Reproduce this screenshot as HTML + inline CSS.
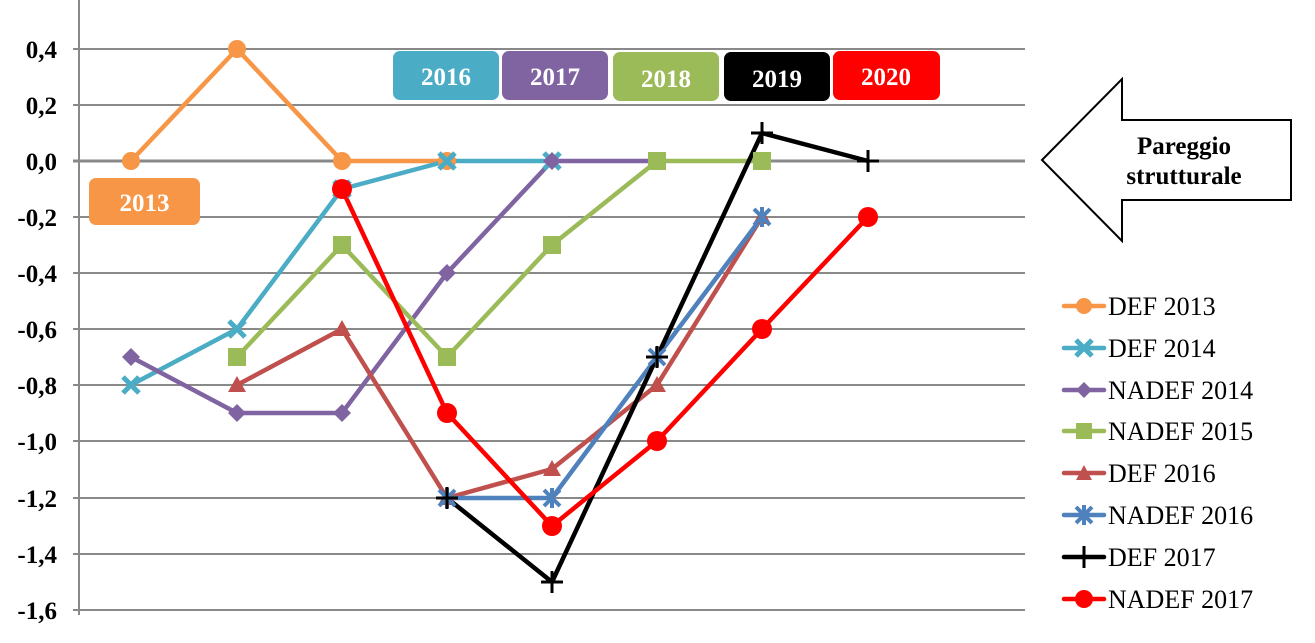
<!DOCTYPE html>
<html><head><meta charset="utf-8"><style>
html,body{margin:0;padding:0;background:#fff;}
svg{display:block;font-family:"Liberation Serif",serif;}
</style></head><body>
<svg width="1315" height="643" viewBox="0 0 1315 643">
<defs>
<g id="mX"><path d="M-8,-8L8,8M-8,8L8,-8" stroke-width="5"/></g>
<g id="mStar"><path d="M-8,-8L8,8M-8,8L8,-8M0,-10L0,10" stroke-width="4"/></g>
<g id="mPlus"><path d="M-11,0L11,0M0,-11L0,11" stroke="#000" stroke-width="3"/></g>
</defs>
<g stroke="#898989" stroke-width="2">
<line x1="73" y1="49" x2="1025" y2="49"/>
<line x1="73" y1="105" x2="1025" y2="105"/>
<line x1="73" y1="217" x2="1025" y2="217"/>
<line x1="73" y1="273" x2="1025" y2="273"/>
<line x1="73" y1="329" x2="1025" y2="329"/>
<line x1="73" y1="385" x2="1025" y2="385"/>
<line x1="73" y1="441" x2="1025" y2="441"/>
<line x1="73" y1="498" x2="1025" y2="498"/>
<line x1="73" y1="554" x2="1025" y2="554"/>
<line x1="73" y1="610" x2="1025" y2="610"/>
<line x1="73" y1="161" x2="1025" y2="161" stroke-width="3"/>
<line x1="79" y1="0" x2="79" y2="615"/>
</g>
<g font-size="25" font-weight="bold" text-anchor="end" fill="#000">
<text x="57" y="58">0,4</text><text x="57" y="114">0,2</text><text x="57" y="170">0,0</text>
<text x="57" y="226">-0,2</text><text x="57" y="282">-0,4</text><text x="57" y="338">-0,6</text>
<text x="57" y="394">-0,8</text><text x="57" y="450">-1,0</text><text x="57" y="507">-1,2</text>
<text x="57" y="563">-1,4</text><text x="57" y="619">-1,6</text>
</g>
<g fill="none" stroke-width="4.5" stroke-linejoin="round">
<polyline stroke="#f79646" points="131,161 237,49 342,161 447,161"/>
<polyline stroke="#4bacc6" points="131,385 237,329 342,189 447,161 552,161"/>
<polyline stroke="#8064a2" points="131,357 237,413 342,413 447,273 552,161 657,161"/>
<polyline stroke="#9bbb59" points="237,357 342,245 447,357 552,245 657,161 762,161"/>
<polyline stroke="#c0504d" points="237,385 342,329 447,498 552,469 657,385 762,217"/>
<polyline stroke="#4f81bd" points="447,498 552,498 657,357 762,217"/>
<polyline stroke="#000" points="447,498 552,582 657,357 762,133 868,161"/>
<polyline stroke="#ff0000" points="342,189 447,413 552,526 657,441 762,329 868,217"/>
</g>
<g fill="#f79646"><circle cx="131" cy="161" r="9"/><circle cx="237" cy="49" r="9"/><circle cx="342" cy="161" r="9"/><circle cx="447" cy="161" r="9"/></g>
<g stroke="#4bacc6"><use href="#mX" x="131" y="385"/><use href="#mX" x="237" y="329"/><use href="#mX" x="342" y="189"/><use href="#mX" x="447" y="161"/><use href="#mX" x="552" y="161"/></g>
<g fill="#8064a2"><path d="M131,348l9,9-9,9-9-9z"/><path d="M237,404l9,9-9,9-9-9z"/><path d="M342,404l9,9-9,9-9-9z"/><path d="M447,264l9,9-9,9-9-9z"/><path d="M552,152l9,9-9,9-9-9z"/><path d="M657,152l9,9-9,9-9-9z"/></g>
<g fill="#9bbb59"><rect x="228" y="348" width="18" height="18"/><rect x="333" y="236" width="18" height="18"/><rect x="438" y="348" width="18" height="18"/><rect x="543" y="236" width="18" height="18"/><rect x="648" y="152" width="18" height="18"/><rect x="753" y="152" width="18" height="18"/></g>
<g fill="#c0504d"><path d="M237,376l9,16h-18z"/><path d="M342,320l9,16h-18z"/><path d="M447,489l9,16h-18z"/><path d="M552,460l9,16h-18z"/><path d="M657,376l9,16h-18z"/><path d="M762,208l9,16h-18z"/></g>
<g stroke="#4f81bd"><use href="#mStar" x="447" y="498"/><use href="#mStar" x="552" y="498"/><use href="#mStar" x="657" y="357"/><use href="#mStar" x="762" y="217"/></g>
<g><use href="#mPlus" x="447" y="498"/><use href="#mPlus" x="552" y="582"/><use href="#mPlus" x="657" y="357"/><use href="#mPlus" x="762" y="133"/><use href="#mPlus" x="868" y="161"/></g>
<g fill="#ff0000"><circle cx="342" cy="189" r="10"/><circle cx="447" cy="413" r="10"/><circle cx="552" cy="526" r="10"/><circle cx="657" cy="441" r="10"/><circle cx="762" cy="329" r="10"/><circle cx="868" cy="217" r="10"/></g>
<rect x="89" y="178" width="111" height="47" rx="7" fill="#f79646"/>
<rect x="393" y="51" width="106" height="49" rx="7" fill="#4bacc6"/>
<rect x="502" y="51" width="106" height="49" rx="7" fill="#8064a2"/>
<rect x="613" y="52" width="106" height="49" rx="7" fill="#9bbb59"/>
<rect x="724" y="52" width="106" height="49" rx="7" fill="#000"/>
<rect x="833" y="51" width="107" height="49" rx="7" fill="#ff0000"/>
<g font-size="25" font-weight="bold" fill="#fff" text-anchor="middle">
<text x="144.5" y="211">2013</text><text x="446" y="85">2016</text><text x="555" y="85">2017</text>
<text x="666" y="87">2018</text><text x="777" y="87">2019</text><text x="886" y="85">2020</text>
</g>
<path d="M1042,160L1122,79V120H1291V200H1122V241Z" fill="#fff" stroke="#000" stroke-width="2"/>
<g font-size="25" font-weight="bold" text-anchor="middle"><text x="1184" y="154">Pareggio</text><text x="1184" y="184">strutturale</text></g>
<g stroke-width="4.5" stroke-linecap="round">
<line x1="1064" y1="306" x2="1104" y2="306" stroke="#f79646"/>
<line x1="1064" y1="348" x2="1104" y2="348" stroke="#4bacc6"/>
<line x1="1064" y1="390" x2="1104" y2="390" stroke="#8064a2"/>
<line x1="1064" y1="431" x2="1104" y2="431" stroke="#9bbb59"/>
<line x1="1064" y1="473" x2="1104" y2="473" stroke="#c0504d"/>
<line x1="1064" y1="515" x2="1104" y2="515" stroke="#4f81bd"/>
<line x1="1064" y1="557" x2="1104" y2="557" stroke="#000"/>
<line x1="1064" y1="599" x2="1104" y2="599" stroke="#ff0000"/>
</g>
<circle cx="1084" cy="306" r="8" fill="#f79646"/>
<use href="#mX" x="1084" y="348" stroke="#4bacc6"/>
<path d="M1084,382l8,8-8,8-8-8z" fill="#8064a2"/>
<rect x="1076" y="423" width="16" height="16" fill="#9bbb59"/>
<path d="M1084,465l8,15h-16z" fill="#c0504d"/>
<use href="#mStar" x="1084" y="515" stroke="#4f81bd"/>
<use href="#mPlus" x="1084" y="557"/>
<circle cx="1084" cy="599" r="9" fill="#ff0000"/>
<g font-size="26" fill="#000">
<text x="1108" y="315">DEF 2013</text><text x="1108" y="357">DEF 2014</text><text x="1108" y="399">NADEF 2014</text>
<text x="1108" y="440">NADEF 2015</text><text x="1108" y="482">DEF 2016</text><text x="1108" y="524">NADEF 2016</text>
<text x="1108" y="566">DEF 2017</text><text x="1108" y="608">NADEF 2017</text>
</g>
</svg>
</body></html>
